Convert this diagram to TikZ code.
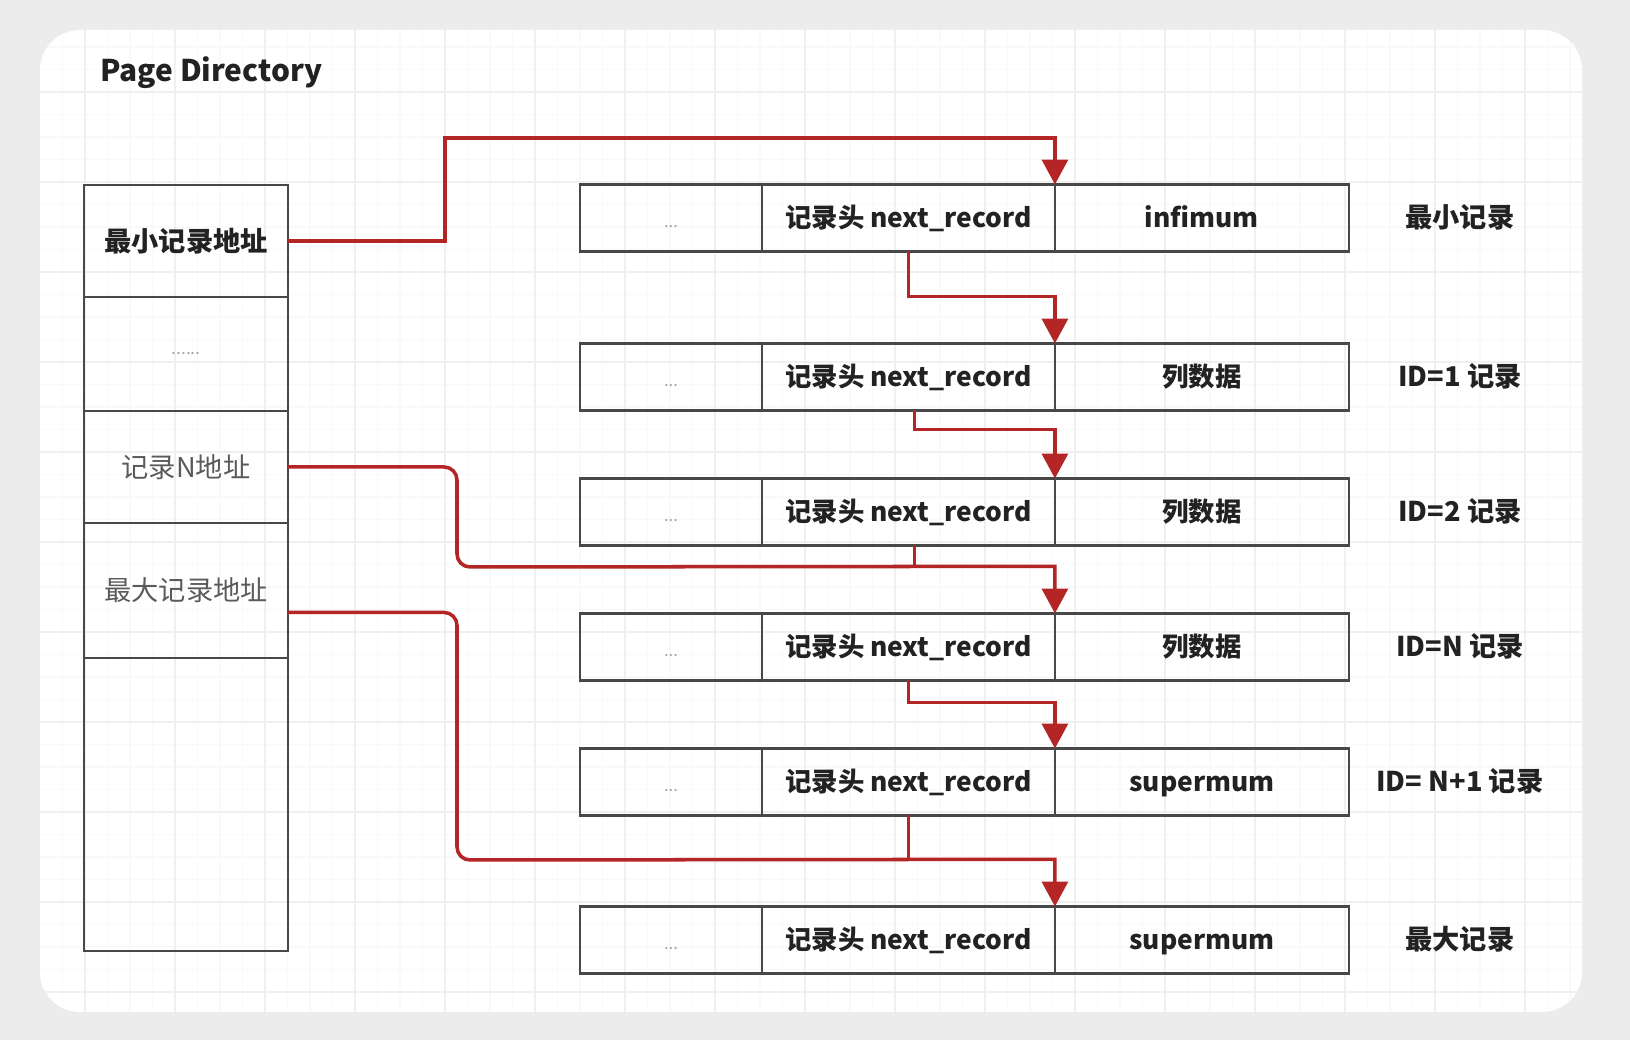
\documentclass[tikz,border=0pt]{standalone}
\usepackage{fontspec}
\setmainfont{Noto Sans CJK SC}
\usetikzlibrary{positioning,arrows.meta}
\definecolor{PageBack}{RGB}{236,236,236}
\definecolor{GridMinor}{RGB}{249,249,249}
\definecolor{GridMajor}{RGB}{240,240,240}
\definecolor{BoxGrey}{RGB}{72,72,72}
\definecolor{InkDark}{RGB}{34,34,34}
\definecolor{InkSoft}{RGB}{90,90,90}
\definecolor{DotGrey}{RGB}{165,165,165}
\definecolor{LinkRed}{RGB}{180,38,38}
\tikzset{
  cellbox/.style={draw=BoxGrey,line width=1.3pt,inner sep=0pt,outer sep=0pt,
    minimum height=1.34cm,text height=1.05em,text depth=0em,
    font=\fontsize{15}{18}\selectfont\bfseries,text=InkDark},
  dotcell/.style={cellbox,minimum width=3.64cm,font=\fontsize{9.5}{10}\selectfont,text=DotGrey},
  hdrcell/.style={cellbox,minimum width=5.86cm},
  datcell/.style={cellbox,minimum width=5.88cm},
  tagnode/.style={inner sep=0pt,outer sep=0pt,minimum width=4.44cm,
    text height=1.05em,text depth=0em,
    font=\fontsize{15.5}{18}\selectfont\bfseries,text=InkDark},
  pdcell/.style={draw=BoxGrey,line width=1.3pt,inner sep=0pt,outer sep=0pt,
    minimum width=4.08cm,font=\fontsize{15.5}{18}\selectfont,text=InkSoft},
  link/.style={-{Triangle[length=0.5cm,width=0.52cm]},line width=2pt,draw=LinkRed},
  wire/.style={line width=2pt,draw=LinkRed}
}
\begin{document}
\begin{tikzpicture}[x=0.02cm,y=-0.02cm]
  \useasboundingbox (0,0) rectangle (1630,1040);
  % card and grid
  \fill[PageBack] (0,0) rectangle (1630,1040);
  \fill[white,rounded corners=0.8cm] (40,30) rectangle (1582,1012);
  \begin{scope}
    \clip[rounded corners=0.8cm] (40,30) rectangle (1582,1012);
    \foreach \gx in {62.5,85,...,1582} \draw[GridMinor,line width=0.6pt] (\gx,30) -- (\gx,1012);
    \foreach \gy in {47,69.5,...,1012} \draw[GridMinor,line width=0.6pt] (40,\gy) -- (1582,\gy);
    \foreach \gx in {85,175,...,1582} \draw[GridMajor,line width=0.7pt] (\gx,30) -- (\gx,1012);
    \foreach \gy in {92,182,...,1012} \draw[GridMajor,line width=0.7pt] (40,\gy) -- (1582,\gy);
  \end{scope}

  \node[anchor=west,font=\fontsize{17}{20}\selectfont\bfseries,text=InkDark] (title) at (94,73) {Page Directory};

  % page directory slots
  \node[pdcell,minimum height=2.24cm,font=\fontsize{15.5}{18}\selectfont\bfseries,text=InkDark] (pd1) at (186,241) {最小记录地址};
  \node[pdcell,minimum height=2.28cm,below=0pt of pd1,font=\fontsize{10}{12}\selectfont,text=DotGrey] (pd2) {......};
  \node[pdcell,minimum height=2.24cm,below=0pt of pd2] (pd3) {记录N地址};
  \node[pdcell,minimum height=2.7cm,below=0pt of pd3] (pd4) {最大记录地址};
  \node[pdcell,minimum height=5.86cm,below=0pt of pd4] (pd5) {};

  % records
  \node[dotcell] (dots1) at (671,218) {...};
  \node[hdrcell,right=0pt of dots1] (hdr1) {记录头 next\_record};
  \node[datcell,right=0pt of hdr1] (dat1) {infimum};
  \node[tagnode,right=0pt of dat1] (tag1) {最小记录};

  \node[dotcell] (dots2) at (671,377) {...};
  \node[hdrcell,right=0pt of dots2] (hdr2) {记录头 next\_record};
  \node[datcell,right=0pt of hdr2] (dat2) {列数据};
  \node[tagnode,right=0pt of dat2] (tag2) {ID=1 记录};

  \node[dotcell] (dots3) at (671,512) {...};
  \node[hdrcell,right=0pt of dots3] (hdr3) {记录头 next\_record};
  \node[datcell,right=0pt of hdr3] (dat3) {列数据};
  \node[tagnode,right=0pt of dat3] (tag3) {ID=2 记录};

  \node[dotcell] (dots4) at (671,647) {...};
  \node[hdrcell,right=0pt of dots4] (hdr4) {记录头 next\_record};
  \node[datcell,right=0pt of hdr4] (dat4) {列数据};
  \node[tagnode,right=0pt of dat4] (tag4) {ID=N 记录};

  \node[dotcell] (dots5) at (671,782) {...};
  \node[hdrcell,right=0pt of dots5] (hdr5) {记录头 next\_record};
  \node[datcell,right=0pt of hdr5] (dat5) {supermum};
  \node[tagnode,right=0pt of dat5] (tag5) {ID= N+1 记录};

  \node[dotcell] (dots6) at (671,940) {...};
  \node[hdrcell,right=0pt of dots6] (hdr6) {记录头 next\_record};
  \node[datcell,right=0pt of hdr6] (dat6) {supermum};
  \node[tagnode,right=0pt of dat6] (tag6) {最大记录};

  % next_record chain
  \coordinate (j3) at ([yshift=-0.42cm]hdr3.south);
  \coordinate (j5) at ([yshift=-0.88cm]hdr5.south);
  \draw[link] (pd1.east) -| (445,138) -| (hdr1.north east);
  \draw[link] (hdr1.south) -- ++(0,45) -| (hdr2.north east);
  \draw[link] ([xshift=0.12cm]hdr2.south) -- ++(0,19) -| (hdr3.north east);
  \draw[wire] ([xshift=0.12cm]hdr3.south) -- ([xshift=0.12cm]j3);
  \draw[link] (pd3.east) [rounded corners=0.26cm] -| (457,567) -- (j3) [sharp corners] -| (hdr4.north east);
  \draw[link] (hdr4.south) -- ++(0,22) -| (hdr5.north east);
  \draw[wire] (hdr5.south) -- (j5);
  \draw[link] ([yshift=-0.44cm]pd4.east) [rounded corners=0.26cm] -| (457,860) -- (j5) [sharp corners] -| (hdr6.north east);
\end{tikzpicture}
\end{document}
